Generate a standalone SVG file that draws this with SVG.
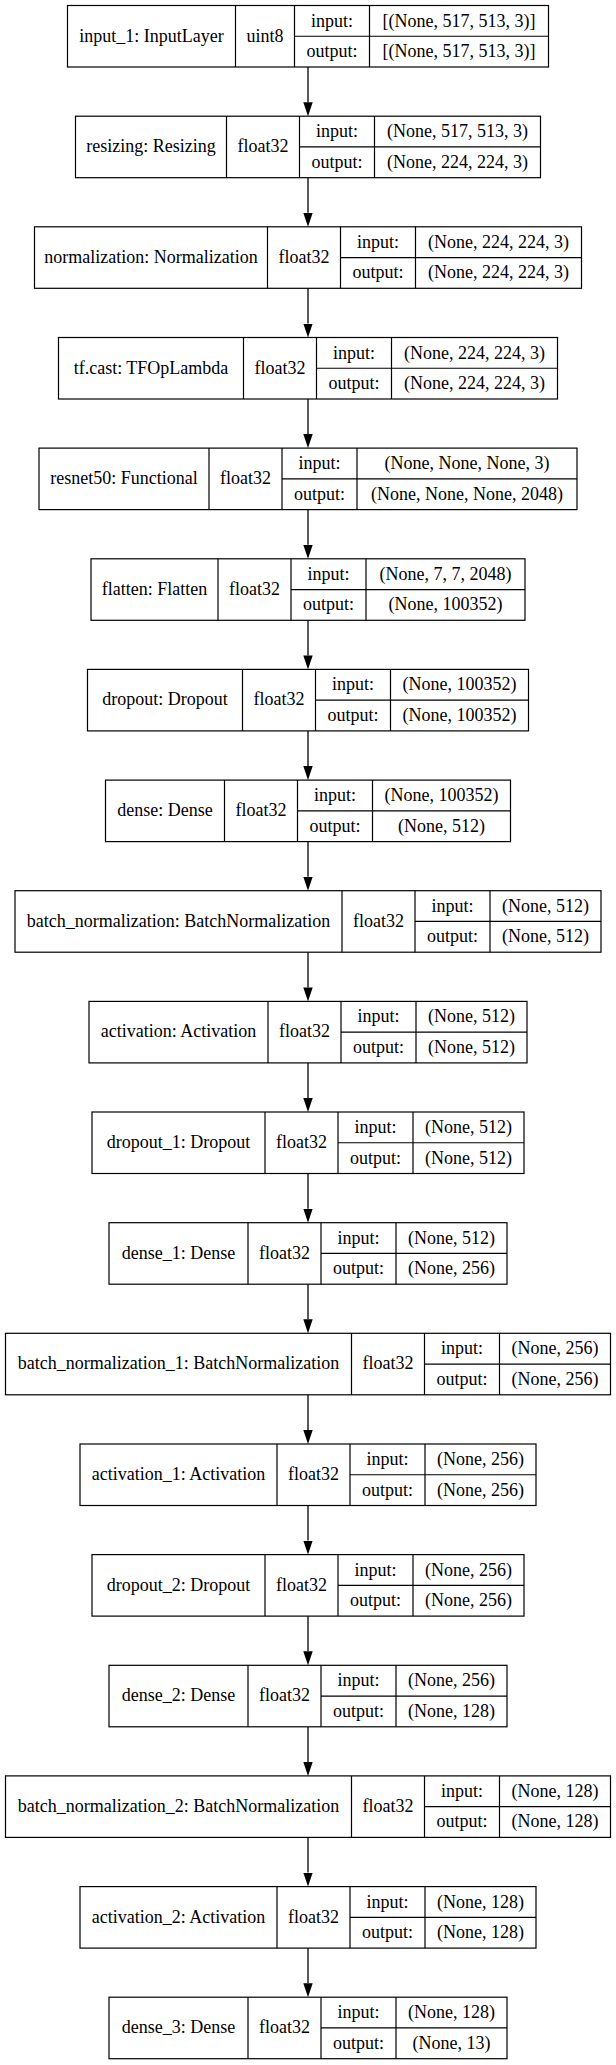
<svg xmlns="http://www.w3.org/2000/svg" width="616" height="2065" viewBox="0 0 616 2065">
<style>
.b{fill:#fff;stroke:#000;stroke-width:1.2}
.l{stroke:#000;stroke-width:1.2;fill:none}
text{font-family:"Liberation Serif","Times New Roman",serif;font-size:18px;fill:#000;text-anchor:middle}
.e{stroke:#000;stroke-width:1.3;fill:none}
</style>
<defs>
<marker id="ah" markerUnits="userSpaceOnUse" markerWidth="14" markerHeight="10" refX="0" refY="4.7" orient="auto" viewBox="0 0 14 9.4">
<path d="M0,0 L14,4.7 L0,9.4 z" fill="#000"/>
</marker>
</defs>
<rect x="0" y="0" width="616" height="2065" fill="#fff"/>
<g id="connectors">
<path class="e" marker-end="url(#ah)" d="M308,67 V102.2"/>
<path class="e" marker-end="url(#ah)" d="M308,177.7 V212.8"/>
<path class="e" marker-end="url(#ah)" d="M308,288.3 V323.5"/>
<path class="e" marker-end="url(#ah)" d="M308,399 V434.1"/>
<path class="e" marker-end="url(#ah)" d="M308,509.6 V544.8"/>
<path class="e" marker-end="url(#ah)" d="M308,620.3 V655.4"/>
<path class="e" marker-end="url(#ah)" d="M308,730.9 V766.1"/>
<path class="e" marker-end="url(#ah)" d="M308,841.6 V876.7"/>
<path class="e" marker-end="url(#ah)" d="M308,952.2 V987.4"/>
<path class="e" marker-end="url(#ah)" d="M308,1062.9 V1098"/>
<path class="e" marker-end="url(#ah)" d="M308,1173.5 V1208.7"/>
<path class="e" marker-end="url(#ah)" d="M308,1284.2 V1319.3"/>
<path class="e" marker-end="url(#ah)" d="M308,1394.8 V1430"/>
<path class="e" marker-end="url(#ah)" d="M308,1505.5 V1540.6"/>
<path class="e" marker-end="url(#ah)" d="M308,1616.1 V1651.3"/>
<path class="e" marker-end="url(#ah)" d="M308,1726.8 V1761.9"/>
<path class="e" marker-end="url(#ah)" d="M308,1837.4 V1872.6"/>
<path class="e" marker-end="url(#ah)" d="M308,1948.1 V1983.2"/>
</g>
<g id="input_1" transform="translate(67.5,5.5)">
<rect class="b" x="0" y="0" width="481" height="61.5"/>
<path class="l" d="M168,0 V61.5 M227,0 V61.5 M302,0 V61.5 M227,30.75 H481"/>
<text x="84" y="36">input_1: InputLayer</text>
<text x="197.5" y="36">uint8</text>
<text x="264.5" y="21">input:</text>
<text x="264.5" y="51.5">output:</text>
<text x="391.5" y="21">[(None, 517, 513, 3)]</text>
<text x="391.5" y="51.5">[(None, 517, 513, 3)]</text>
</g>
<g id="resizing" transform="translate(75.5,116.2)">
<rect class="b" x="0" y="0" width="465" height="61.5"/>
<path class="l" d="M151,0 V61.5 M224,0 V61.5 M299,0 V61.5 M224,30.75 H465"/>
<text x="75.5" y="36">resizing: Resizing</text>
<text x="187.5" y="36">float32</text>
<text x="261.5" y="21">input:</text>
<text x="261.5" y="51.5">output:</text>
<text x="382" y="21">(None, 517, 513, 3)</text>
<text x="382" y="51.5">(None, 224, 224, 3)</text>
</g>
<g id="normalization" transform="translate(34.5,226.8)">
<rect class="b" x="0" y="0" width="547" height="61.5"/>
<path class="l" d="M233,0 V61.5 M306,0 V61.5 M381,0 V61.5 M306,30.75 H547"/>
<text x="116.5" y="36">normalization: Normalization</text>
<text x="269.5" y="36">float32</text>
<text x="343.5" y="21">input:</text>
<text x="343.5" y="51.5">output:</text>
<text x="464" y="21">(None, 224, 224, 3)</text>
<text x="464" y="51.5">(None, 224, 224, 3)</text>
</g>
<g id="tf_cast" transform="translate(58.5,337.5)">
<rect class="b" x="0" y="0" width="499" height="61.5"/>
<path class="l" d="M185,0 V61.5 M258,0 V61.5 M333,0 V61.5 M258,30.75 H499"/>
<text x="92.5" y="36">tf.cast: TFOpLambda</text>
<text x="221.5" y="36">float32</text>
<text x="295.5" y="21">input:</text>
<text x="295.5" y="51.5">output:</text>
<text x="416" y="21">(None, 224, 224, 3)</text>
<text x="416" y="51.5">(None, 224, 224, 3)</text>
</g>
<g id="resnet50" transform="translate(39,448.1)">
<rect class="b" x="0" y="0" width="538" height="61.5"/>
<path class="l" d="M170,0 V61.5 M243,0 V61.5 M318,0 V61.5 M243,30.75 H538"/>
<text x="85" y="36">resnet50: Functional</text>
<text x="206.5" y="36">float32</text>
<text x="280.5" y="21">input:</text>
<text x="280.5" y="51.5">output:</text>
<text x="428" y="21">(None, None, None, 3)</text>
<text x="428" y="51.5">(None, None, None, 2048)</text>
</g>
<g id="flatten" transform="translate(91,558.8)">
<rect class="b" x="0" y="0" width="434" height="61.5"/>
<path class="l" d="M127,0 V61.5 M200,0 V61.5 M275,0 V61.5 M200,30.75 H434"/>
<text x="63.5" y="36">flatten: Flatten</text>
<text x="163.5" y="36">float32</text>
<text x="237.5" y="21">input:</text>
<text x="237.5" y="51.5">output:</text>
<text x="354.5" y="21">(None, 7, 7, 2048)</text>
<text x="354.5" y="51.5">(None, 100352)</text>
</g>
<g id="dropout" transform="translate(87.5,669.4)">
<rect class="b" x="0" y="0" width="441" height="61.5"/>
<path class="l" d="M155,0 V61.5 M228,0 V61.5 M303,0 V61.5 M228,30.75 H441"/>
<text x="77.5" y="36">dropout: Dropout</text>
<text x="191.5" y="36">float32</text>
<text x="265.5" y="21">input:</text>
<text x="265.5" y="51.5">output:</text>
<text x="372" y="21">(None, 100352)</text>
<text x="372" y="51.5">(None, 100352)</text>
</g>
<g id="dense" transform="translate(105.5,780.1)">
<rect class="b" x="0" y="0" width="405" height="61.5"/>
<path class="l" d="M119,0 V61.5 M192,0 V61.5 M267,0 V61.5 M192,30.75 H405"/>
<text x="59.5" y="36">dense: Dense</text>
<text x="155.5" y="36">float32</text>
<text x="229.5" y="21">input:</text>
<text x="229.5" y="51.5">output:</text>
<text x="336" y="21">(None, 100352)</text>
<text x="336" y="51.5">(None, 512)</text>
</g>
<g id="batch_normalization" transform="translate(15,890.7)">
<rect class="b" x="0" y="0" width="586" height="61.5"/>
<path class="l" d="M327,0 V61.5 M400,0 V61.5 M475,0 V61.5 M400,30.75 H586"/>
<text x="163.5" y="36">batch_normalization: BatchNormalization</text>
<text x="363.5" y="36">float32</text>
<text x="437.5" y="21">input:</text>
<text x="437.5" y="51.5">output:</text>
<text x="530.5" y="21">(None, 512)</text>
<text x="530.5" y="51.5">(None, 512)</text>
</g>
<g id="activation" transform="translate(89,1001.4)">
<rect class="b" x="0" y="0" width="438" height="61.5"/>
<path class="l" d="M179,0 V61.5 M252,0 V61.5 M327,0 V61.5 M252,30.75 H438"/>
<text x="89.5" y="36">activation: Activation</text>
<text x="215.5" y="36">float32</text>
<text x="289.5" y="21">input:</text>
<text x="289.5" y="51.5">output:</text>
<text x="382.5" y="21">(None, 512)</text>
<text x="382.5" y="51.5">(None, 512)</text>
</g>
<g id="dropout_1" transform="translate(92,1112)">
<rect class="b" x="0" y="0" width="432" height="61.5"/>
<path class="l" d="M173,0 V61.5 M246,0 V61.5 M321,0 V61.5 M246,30.75 H432"/>
<text x="86.5" y="36">dropout_1: Dropout</text>
<text x="209.5" y="36">float32</text>
<text x="283.5" y="21">input:</text>
<text x="283.5" y="51.5">output:</text>
<text x="376.5" y="21">(None, 512)</text>
<text x="376.5" y="51.5">(None, 512)</text>
</g>
<g id="dense_1" transform="translate(109,1222.7)">
<rect class="b" x="0" y="0" width="398" height="61.5"/>
<path class="l" d="M139,0 V61.5 M212,0 V61.5 M287,0 V61.5 M212,30.75 H398"/>
<text x="69.5" y="36">dense_1: Dense</text>
<text x="175.5" y="36">float32</text>
<text x="249.5" y="21">input:</text>
<text x="249.5" y="51.5">output:</text>
<text x="342.5" y="21">(None, 512)</text>
<text x="342.5" y="51.5">(None, 256)</text>
</g>
<g id="batch_normalization_1" transform="translate(5.5,1333.3)">
<rect class="b" x="0" y="0" width="605" height="61.5"/>
<path class="l" d="M346,0 V61.5 M419,0 V61.5 M494,0 V61.5 M419,30.75 H605"/>
<text x="173" y="36">batch_normalization_1: BatchNormalization</text>
<text x="382.5" y="36">float32</text>
<text x="456.5" y="21">input:</text>
<text x="456.5" y="51.5">output:</text>
<text x="549.5" y="21">(None, 256)</text>
<text x="549.5" y="51.5">(None, 256)</text>
</g>
<g id="activation_1" transform="translate(80,1444)">
<rect class="b" x="0" y="0" width="456" height="61.5"/>
<path class="l" d="M197,0 V61.5 M270,0 V61.5 M345,0 V61.5 M270,30.75 H456"/>
<text x="98.5" y="36">activation_1: Activation</text>
<text x="233.5" y="36">float32</text>
<text x="307.5" y="21">input:</text>
<text x="307.5" y="51.5">output:</text>
<text x="400.5" y="21">(None, 256)</text>
<text x="400.5" y="51.5">(None, 256)</text>
</g>
<g id="dropout_2" transform="translate(92,1554.6)">
<rect class="b" x="0" y="0" width="432" height="61.5"/>
<path class="l" d="M173,0 V61.5 M246,0 V61.5 M321,0 V61.5 M246,30.75 H432"/>
<text x="86.5" y="36">dropout_2: Dropout</text>
<text x="209.5" y="36">float32</text>
<text x="283.5" y="21">input:</text>
<text x="283.5" y="51.5">output:</text>
<text x="376.5" y="21">(None, 256)</text>
<text x="376.5" y="51.5">(None, 256)</text>
</g>
<g id="dense_2" transform="translate(109,1665.3)">
<rect class="b" x="0" y="0" width="398" height="61.5"/>
<path class="l" d="M139,0 V61.5 M212,0 V61.5 M287,0 V61.5 M212,30.75 H398"/>
<text x="69.5" y="36">dense_2: Dense</text>
<text x="175.5" y="36">float32</text>
<text x="249.5" y="21">input:</text>
<text x="249.5" y="51.5">output:</text>
<text x="342.5" y="21">(None, 256)</text>
<text x="342.5" y="51.5">(None, 128)</text>
</g>
<g id="batch_normalization_2" transform="translate(5.5,1775.9)">
<rect class="b" x="0" y="0" width="605" height="61.5"/>
<path class="l" d="M346,0 V61.5 M419,0 V61.5 M494,0 V61.5 M419,30.75 H605"/>
<text x="173" y="36">batch_normalization_2: BatchNormalization</text>
<text x="382.5" y="36">float32</text>
<text x="456.5" y="21">input:</text>
<text x="456.5" y="51.5">output:</text>
<text x="549.5" y="21">(None, 128)</text>
<text x="549.5" y="51.5">(None, 128)</text>
</g>
<g id="activation_2" transform="translate(80,1886.6)">
<rect class="b" x="0" y="0" width="456" height="61.5"/>
<path class="l" d="M197,0 V61.5 M270,0 V61.5 M345,0 V61.5 M270,30.75 H456"/>
<text x="98.5" y="36">activation_2: Activation</text>
<text x="233.5" y="36">float32</text>
<text x="307.5" y="21">input:</text>
<text x="307.5" y="51.5">output:</text>
<text x="400.5" y="21">(None, 128)</text>
<text x="400.5" y="51.5">(None, 128)</text>
</g>
<g id="dense_3" transform="translate(109,1997.2)">
<rect class="b" x="0" y="0" width="398" height="61.5"/>
<path class="l" d="M139,0 V61.5 M212,0 V61.5 M287,0 V61.5 M212,30.75 H398"/>
<text x="69.5" y="36">dense_3: Dense</text>
<text x="175.5" y="36">float32</text>
<text x="249.5" y="21">input:</text>
<text x="249.5" y="51.5">output:</text>
<text x="342.5" y="21">(None, 128)</text>
<text x="342.5" y="51.5">(None, 13)</text>
</g>
</svg>
